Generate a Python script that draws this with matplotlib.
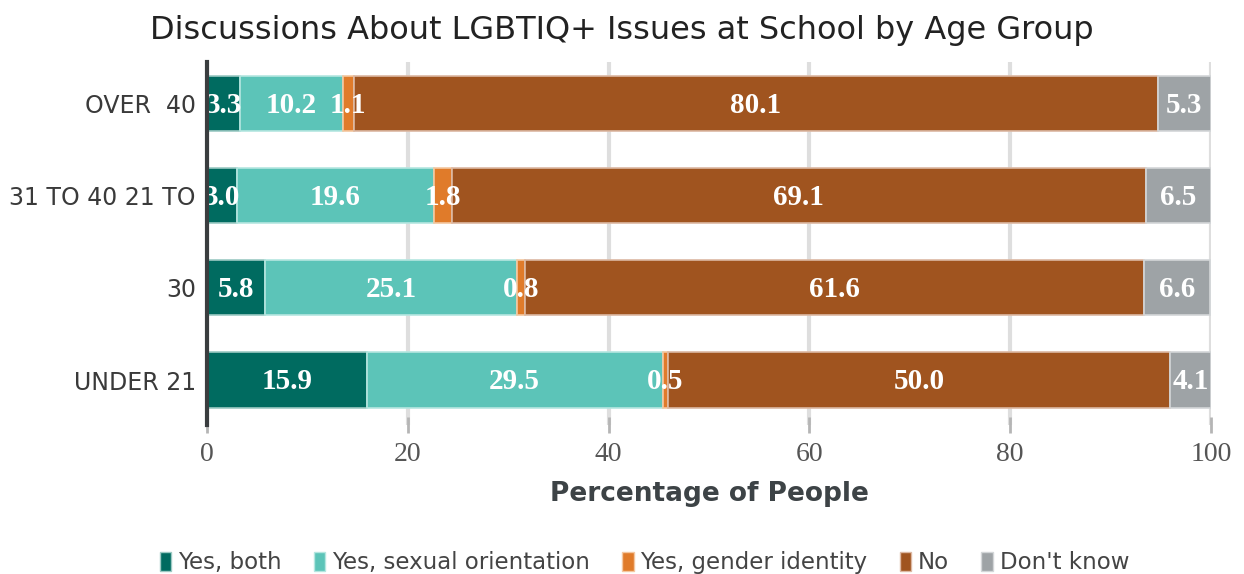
import numpy as np
import matplotlib.pyplot as plt
from matplotlib.patches import Patch

# Age groups listed bottom to top (labels kept as they appear in the source)
groups = ['UNDER 21', '30', '31 TO 40 21 TO', 'OVER  40']
series = ['Yes, both', 'Yes, sexual orientation', 'Yes, gender identity', 'No', "Don't know"]
yes_both = [15.9, 5.8, 3.0, 3.3]
yes_sexual = [29.5, 25.1, 19.6, 10.2]
yes_gender = [0.5, 0.8, 1.8, 1.1]
no = [50.0, 61.6, 69.1, 80.1]
dont_know = [4.1, 6.6, 6.5, 5.3]
xticks = [0, 20, 40, 60, 80, 100]

colors = ['#006b60', '#5cc4b8', '#e07b2a', '#a0541f', '#9ea3a6']
edges = ['#9cc9c3', '#b5e6e0', '#f4c7a0', '#dcb8a3', '#d3d6d8']

fig = plt.figure(figsize=(12.44, 5.74), dpi=100)
ax = fig.add_axes([0.1664, 0.2596, 0.8071, 0.632])

y = np.arange(len(groups))
left = np.zeros(len(groups))
for name, vals, c, ec in zip(series, [yes_both, yes_sexual, yes_gender, no, dont_know], colors, edges):
    vals = np.array(vals)
    ax.barh(y, vals, left=left, height=0.6, color=c, edgecolor=ec, linewidth=1.2, zorder=3)
    for yi, l, v in zip(y, left, vals):
        ax.text(l + v / 2, yi - 0.02, f'{v:.1f}', ha='center', va='center', color='white',
                fontsize=21, fontweight='bold', family='Liberation Serif', zorder=4)
    left += vals

ax.set_xlim(0, 100)
ax.set_ylim(-0.4875, 3.444)
ax.set_xticks(xticks)
ax.set_xticklabels([str(t) for t in xticks], family='Liberation Serif', fontsize=20, color='#555555')
ax.set_yticks(y)
ax.set_yticklabels(groups, fontsize=17, color='#3a3a3a')
ax.tick_params(axis='y', length=0, pad=8)
ax.tick_params(axis='x', length=12, width=2, color='#b5b5b5', pad=6, direction='inout')
ax.grid(axis='x', color='#dedede', linewidth=3, zorder=0)
for s in ['top', 'right', 'bottom']:
    ax.spines[s].set_visible(False)
ax.spines['left'].set_color('#3a3d3f')
ax.spines['left'].set_linewidth(3)
ax.spines['left'].set_zorder(5)

ax.set_xlabel('Percentage of People', fontsize=19, fontweight='bold', color='#3d4346', labelpad=10)
fig.text(0.5, 0.947, 'Discussions About LGBTIQ+ Issues at School by Age Group',
         ha='center', va='center', fontsize=23, color='#222222')

handles = [Patch(facecolor=c, edgecolor=ec) for c, ec in zip(colors, edges)]
leg = fig.legend(handles, series, loc='lower center', bbox_to_anchor=(0.518, -0.036), ncol=5,
                 frameon=False, fontsize=16.5, handlelength=0.5, handleheight=0.9,
                 handletextpad=0.3, columnspacing=1.4)
for t in leg.get_texts():
    t.set_color('#444444')

plt.savefig('out.png', dpi=100)
